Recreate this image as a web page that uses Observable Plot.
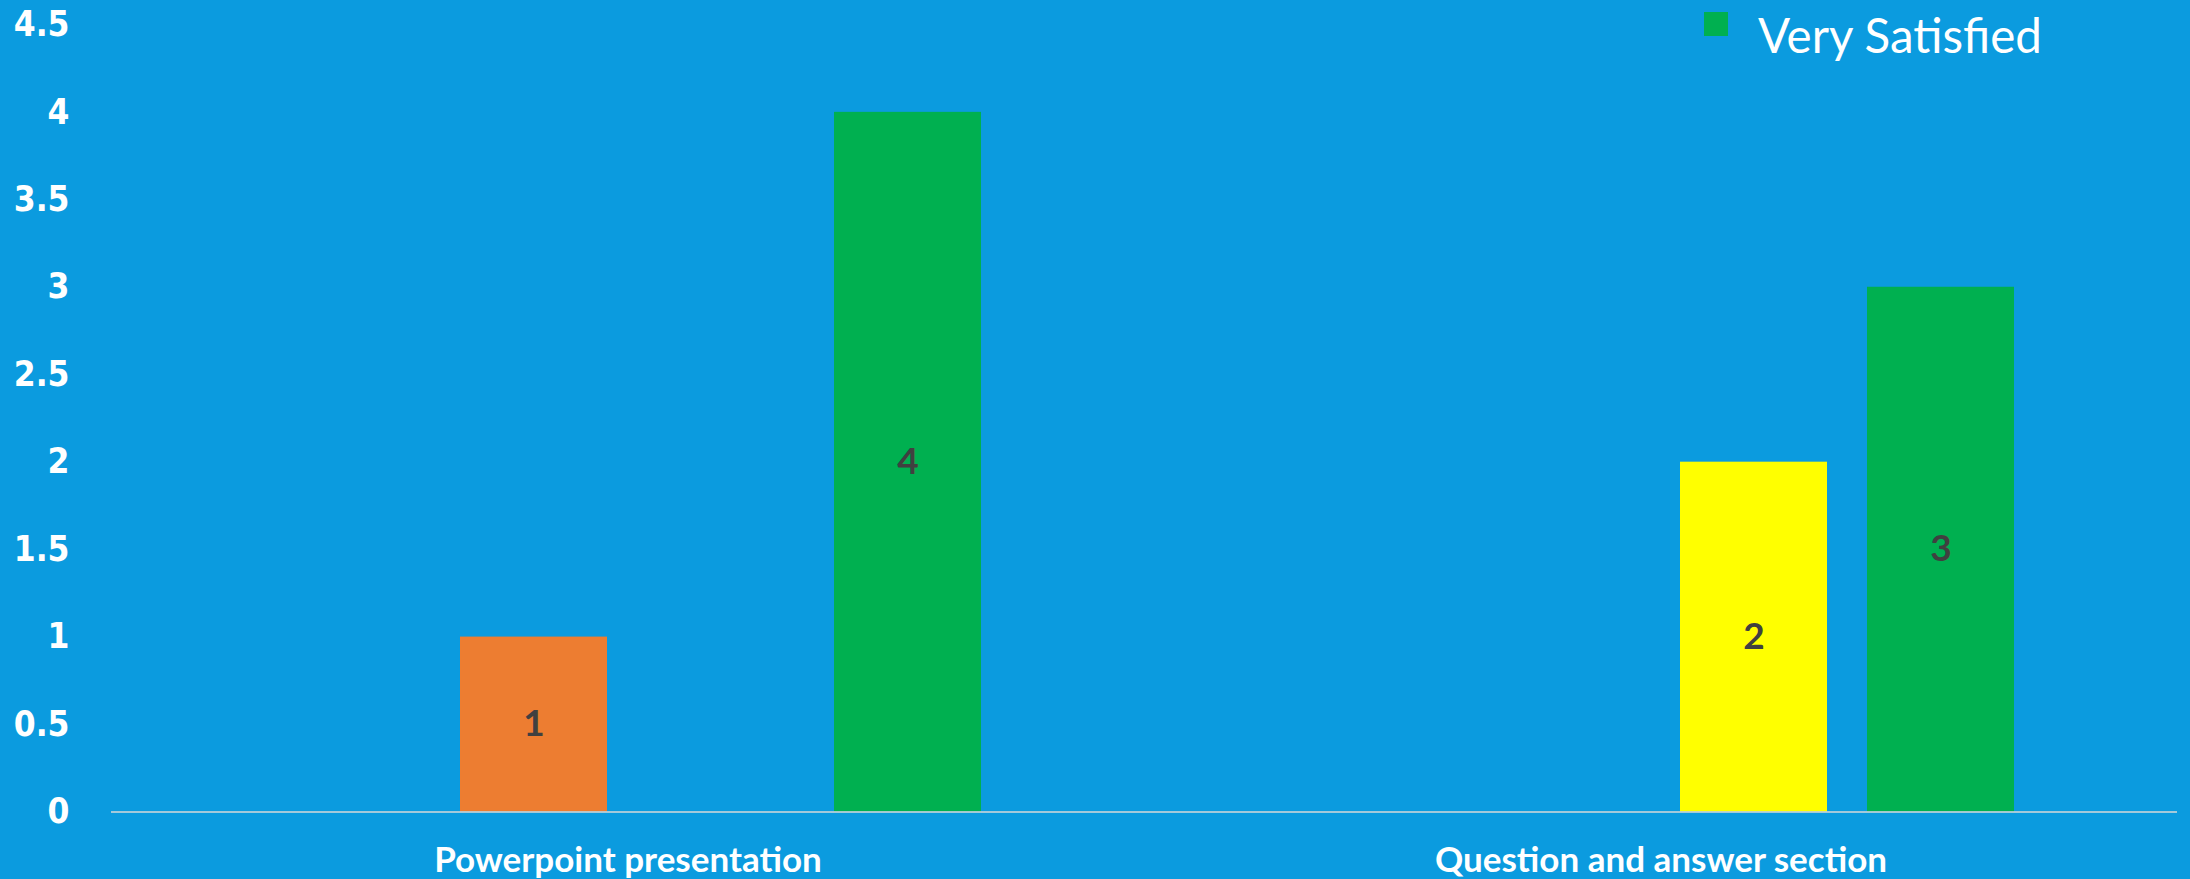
<!DOCTYPE html>
<html><head><meta charset="utf-8">
<script src="https://cdn.jsdelivr.net/npm/d3@7"></script>
<script src="https://cdn.jsdelivr.net/npm/@observablehq/plot@0.6"></script>
<style>
html,body{margin:0;padding:0;background:#0B9BDF;overflow:hidden;}
#wrap{position:relative;width:2190px;height:879px;}
#legend{position:absolute;left:1704px;top:0;height:70px;width:480px;}
#legend .sw{position:absolute;left:0;top:12px;width:24px;height:24px;}
#legend .lt{position:absolute;left:54px;top:11px;font-family:Lato,sans-serif;font-size:47.5px;line-height:1;color:#fff;white-space:nowrap;}
</style>
</head><body>
<div id="wrap"><div id="chart"></div><div id="legend"></div></div>
<script>
const categories = ["Powerpoint presentation", "Question and answer section"];
const series = ["Very Dissatisfied", "Dissatisfied", "Satisfied", "Very Satisfied"];
const powerpointValues = [0, 1, 0, 4];
const questionValues = [0, 0, 2, 3];
const seriesColors = ["#4472C4", "#ED7D31", "#FFFF00", "#00B050"];
const yTicks = [0, 0.5, 1, 1.5, 2, 2.5, 3, 3.5, 4, 4.5];
const yTickLabels = ["0", "0.5", "1", "1.5", "2", "2.5", "3", "3.5", "4", "4.5"];
const legendSeries = ["Very Satisfied"];

const valuesByCategory = [powerpointValues, questionValues];
const rows = categories.flatMap((c, i) => series.map((s, j) => ({category: c, series: s, value: valuesByCategory[i][j]})));
const shown = rows.filter(d => d.value > 0);

const chart = Plot.plot({
  width: 2190,
  height: 879,
  marginLeft: 110,
  marginRight: 13,
  marginTop: 24.4,
  marginBottom: 67.5,
  style: {background: "transparent", color: "#fff", overflow: "visible"},
  fx: {domain: categories, padding: 0, label: null},
  x: {domain: series, paddingInner: 0.213, paddingOuter: 0.863, axis: null},
  y: {domain: [0, 4.5], axis: null, label: null},
  color: {domain: series, range: seriesColors},
  marks: [
    Plot.barY(shown, {fx: "category", x: "series", y: "value", fill: "series"}),
    Plot.ruleY([0], {stroke: "#D9D9D9", strokeWidth: 1.5}),
    Plot.text(shown, {fx: "category", x: "series", y: d => d.value / 2, text: d => String(d.value),
      fill: "#404040", fontSize: 37, fontWeight: "bold", fontFamily: "Lato"}),
    Plot.axisY(yTicks, {tickSize: 0, tickPadding: 42, fontSize: 35, fontWeight: "bold", label: null,
      fontFamily: "DejaVu Sans Condensed, DejaVu Sans", fill: "#fff",
      tickFormat: d => yTickLabels[yTicks.indexOf(d)]}),
    Plot.axisFx({anchor: "bottom", tickSize: 0, tickPadding: 35, fontSize: 35, fontWeight: "bold",
      fontFamily: "Lato", fill: "#fff", label: null})
  ]
});
document.getElementById("chart").appendChild(chart);

const legend = document.getElementById("legend");
legendSeries.forEach(s => {
  const sw = document.createElement("div");
  sw.className = "sw";
  sw.style.background = seriesColors[series.indexOf(s)];
  const lt = document.createElement("div");
  lt.className = "lt";
  lt.textContent = s;
  legend.appendChild(sw);
  legend.appendChild(lt);
});
</script>
</body></html>
